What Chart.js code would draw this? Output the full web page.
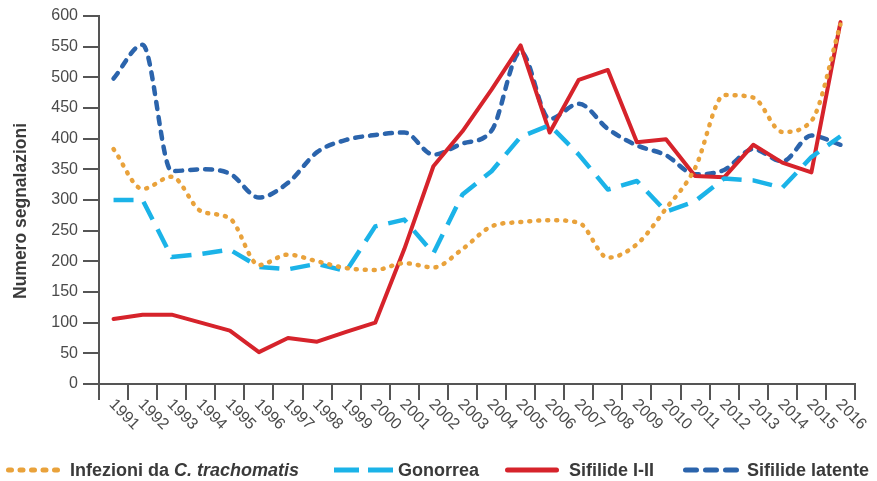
<!DOCTYPE html>
<html><head><meta charset="utf-8">
<script src="https://cdn.jsdelivr.net/npm/chart.js@4.4.1/dist/chart.umd.min.js"></script>
<style>
html,body{margin:0;padding:0;background:#fff;}
#wrap{position:relative;width:877px;height:481px;overflow:hidden;}
#c{position:absolute;left:0;top:0;}
#legend{position:absolute;left:0;top:458px;width:877px;height:24px;
 font-family:"Liberation Sans",Arial,sans-serif;font-weight:bold;font-size:18px;color:#3a3a3a;white-space:nowrap;}
#legend svg,#legend span{position:absolute;}
#legend span{top:0;line-height:24px;}
#legend svg{top:7px;}
</style></head>
<body>
<div id="wrap"><canvas id="c" width="877" height="481"></canvas><div id="legend"></div></div>
<script>
const years = ["1991","1992","1993","1994","1995","1996","1997","1998","1999","2000","2001","2002","2003","2004","2005","2006","2007","2008","2009","2010","2011","2012","2013","2014","2015","2016"];
const chlamydia = [383,318,338,282,270,194,211,200,189,186,197,190,220,257,264,267,263,206,228,286,352,471,467,411,429,586];
const gonorrea  = [300,300,207,212,219,191,187,196,184,257,268,213,309,347,403,422,374,317,331,281,298,335,332,320,370,404];
const sifilide12 = [106,113,113,100,87,52,75,69,85,100,220,355,412,480,552,410,496,512,394,399,339,337,390,361,345,590];
const sifilideLat = [498,553,347,350,343,304,328,378,398,406,410,374,392,413,542,432,457,416,389,373,342,349,383,363,405,390];
const yTicks = [0,50,100,150,200,250,300,350,400,450,500,550,600];
const seriesNames = ["Infezioni da C. trachomatis","Gonorrea","Sifilide I-II","Sifilide latente"];
const yTitle = "Numero segnalazioni";

const colors = ["#E9A23B","#1BB3E8","#D6232B","#2B64AC"];
const dashes = [[1,8],[20,11],[],[7,8]];
const caps = ["round","butt","round","round"];
const FONT = '"Liberation Sans", Arial, sans-serif';

const textPlugin = {
  id:'extraText',
  afterDraw(chart){
    const ctx = chart.ctx, sc = chart.scales.x, ys = chart.scales.y;
    ctx.save();
    ctx.font = '16px ' + FONT;
    ctx.fillStyle = '#4a4a4a';
    ctx.textAlign = 'left';
    ctx.textBaseline = 'middle';
    years.forEach((y,i)=>{
      const px = sc.getPixelForValue(i);
      ctx.save();
      ctx.translate(px-2, sc.top+18);
      ctx.rotate(Math.PI/4);
      ctx.fillText(y,0,0);
      ctx.restore();
    });
    // y axis title
    ctx.save();
    ctx.font = 'bold 17.5px ' + FONT;
    ctx.fillStyle = '#3a3a3a';
    ctx.textAlign = 'center';
    ctx.textBaseline = 'middle';
    ctx.translate(21, (ys.top+ys.bottom)/2 + 11);
    ctx.rotate(-Math.PI/2);
    ctx.fillText(yTitle,0,0);
    ctx.restore();
    ctx.restore();
  }
};

const data = {
  labels: years,
  datasets: [chlamydia,gonorrea,sifilide12,sifilideLat].map((d,i)=>({
    label: seriesNames[i], data: d,
    borderColor: colors[i], backgroundColor: colors[i],
    borderWidth: i===2?4:4.5, borderDash: dashes[i], borderCapStyle: caps[i], borderJoinStyle:'round',
    pointRadius:0, fill:false,
    cubicInterpolationMode: (i===0||i===3)?'monotone':'default', tension: (i===0||i===3)?0.4:0
  }))
};

new Chart(document.getElementById('c'),{
  type:'line',
  data,
  options:{
    responsive:false, animation:false,
    layout:{padding:{left:0,right:22,top:16,bottom:0}},
    plugins:{legend:{display:false},tooltip:{enabled:false}},
    scales:{
      x:{
        offset:true,
        grid:{offset:true,drawOnChartArea:false,tickLength:16,color:'#555',lineWidth:2},
        border:{color:'#555',width:2},
        ticks:{display:false},
        afterFit(s){ s.height = 97; }
      },
      y:{
        min:0,max:600,
        afterBuildTicks(s){ s.ticks = yTicks.map(v=>({value:v})); },
        grid:{drawOnChartArea:false,tickLength:16,color:'#555',lineWidth:2},
        border:{color:'#555',width:2},
        ticks:{color:'#4a4a4a',padding:5,font:{family:FONT,size:16}},
        afterFit(s){ s.width = 99; }
      }
    }
  },
  plugins:[textPlugin]
});

// HTML legend
const leg = document.getElementById('legend');
const sampleLeft = [4,333,503,681];
const sampleW = [60,64,58,60];
const textLeft = [70,398,569,747];
const legDash = ['3 8.5','25 9','none','11 9'];
const legCap = ['round','butt','round','round'];
seriesNames.forEach((name,i)=>{
  const w = sampleW[i];
  const s = document.createElement('div');
  s.innerHTML = `<svg style="left:${sampleLeft[i]}px" width="${w}" height="10"><line x1="${legCap[i]==='butt'?1:4.5}" y1="5" x2="${w-(legCap[i]==='butt'?1:4.5)}" y2="5" stroke="${colors[i]}" stroke-width="5" stroke-linecap="${legCap[i]}" stroke-dasharray="${legDash[i]}"/></svg>`;
  leg.appendChild(s.firstChild);
  const t = document.createElement('span');
  t.style.left = textLeft[i]+'px';
  if(i===0){ t.innerHTML = 'Infezioni da <i>C. trachomatis</i>'; } else { t.textContent = name; }
  leg.appendChild(t);
});
</script>
</body></html>
